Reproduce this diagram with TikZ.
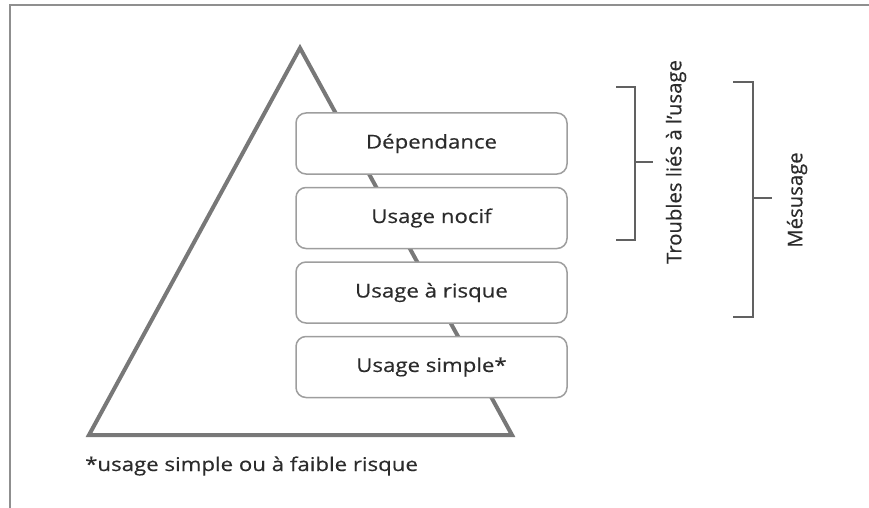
\documentclass[tikz,border=0pt]{standalone}
\usepackage{fontspec}
\setmainfont{Open Sans}[FakeBold=0.4]
\newfontfamily\widefont{Open Sans}[FakeStretch=1.17,FakeBold=0.4]
\usetikzlibrary{positioning}

\definecolor{framecolor}{rgb}{0.560000, 0.560000, 0.560000}
\definecolor{pyramidcolor}{rgb}{0.470000, 0.470000, 0.470000}
\definecolor{boxcolor}{rgb}{0.620000, 0.620000, 0.620000}
\definecolor{bracketcolor}{rgb}{0.380000, 0.380000, 0.380000}
\definecolor{labelcolor}{rgb}{0.170000, 0.170000, 0.170000}

\newlength{\du}
\setlength{\du}{1pt}

\tikzset{
  stagebox/.style={draw=boxcolor, line width=1.5\du, rounded corners=10\du, fill=white,
    minimum width=271\du, minimum height=61\du, inner sep=0pt, text=labelcolor,
    font=\widefont\fontsize{19}{22}\selectfont},
  sidelabel/.style={rotate=90, text=labelcolor, inner sep=0pt, font=\fontsize{20.3}{22}\selectfont},
  bracketline/.style={draw=bracketcolor, line width=2\du},
}

\begin{document}
\begin{tikzpicture}
\pgftransformxscale{1.000000}
\pgftransformyscale{-1.000000}
\useasboundingbox (0\du,0\du) rectangle (869\du,508\du);
% frame
\draw[framecolor, line width=2.5\du] (869\du,5\du)--(10\du,5\du)--(10\du,508\du);
% pyramid
\draw[pyramidcolor, line width=4\du, line join=miter] (300\du,48\du)--(512\du,435\du)--(89\du,435\du)--cycle;
% levels
\node[stagebox] (dependance) at (431.5\du,143.5\du){Dépendance};
\node[stagebox, below=12\du of dependance] (nocif){Usage nocif};
\node[stagebox, below=12\du of nocif] (risque){Usage à risque};
\node[stagebox, below=12\du of risque] (simple){Usage simple*};
% footnote
\node[anchor=west, inner sep=0pt, text=labelcolor, font=\widefont\fontsize{19}{22}\selectfont] (note) at (85\du,466\du){*usage simple ou à faible risque};
% brackets
\coordinate (troublestop) at (616\du,87\du);
\coordinate (troublesbot) at (616\du,240\du);
\coordinate (troublesmid) at (635\du,162\du);
\draw[bracketline] (troublestop)--++(19\du,0)|-(troublesbot);
\draw[bracketline] (troublesmid)--++(18\du,0);
\node[sidelabel] (troubles) at (676\du,162\du){Troubles liés à l'usage};
\coordinate (mesusagetop) at (733\du,82\du);
\coordinate (mesusagebot) at (733\du,317\du);
\coordinate (mesusagemid) at (753\du,198\du);
\draw[bracketline] (mesusagetop)--++(20\du,0)|-(mesusagebot);
\draw[bracketline] (mesusagemid)--++(19\du,0);
\node[sidelabel] (mesusage) at (797\du,200\du){Mésusage};
\end{tikzpicture}
\end{document}
